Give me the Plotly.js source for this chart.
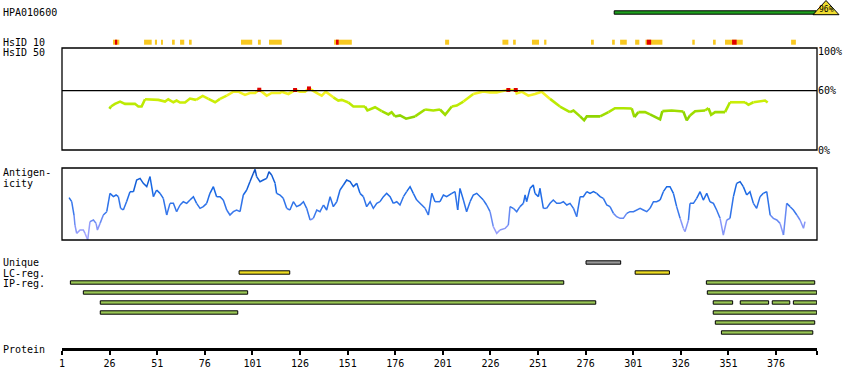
<!DOCTYPE html>
<html><head><meta charset="utf-8">
<script src="https://cdn.plot.ly/plotly-3.0.1.min.js"></script>
<style>html,body{margin:0;padding:0;background:#fff}#chart{width:850px;height:390px}</style>
</head><body><div id="chart"></div>
<script>
// ---------------- DATA ----------------
const proteinEnd = 397.5;
const tickResidues = [1,26,51,76,101,126,151,176,201,226,251,276,301,326,351,376];
const antibodyName = "HPA010600";
const hpaStart = [291], hpaEnd = [397], hpaIdentity = "96%";

const hsid10Start = [27.8,44.1,49.8,53,58.8,63,67.7,95,103.9,109.7,143.9,202.2,232.3,237.9,247.8,254.2,278.8,289.9,294.1,302,307.4,332,342.9,349.2,383.9];
const hsid10End   = [31.1,48.1,50.9,54,60.2,65.2,69.1,100.9,105.4,116.4,153.2,204.3,235.4,239.3,251.5,255.4,280.3,291.3,297.6,304.2,316.3,333.3,344.3,358.5,386.4];
const hsid10RedStart = [28.8,144.9,308.1,352.9];
const hsid10RedEnd   = [30.0,146.3,310.4,355.3];

const hsid50Pos = [25.9,26.7,28.8,31.5,34.1,39.3,41.1,42.8,44.6,51.6,55.1,56.8,59.5,61.2,63.0,65.6,68.2,71.4,74.9,77.9,81.4,84.0,87.5,91.0,93.6,97.1,99.7,102.4,104.6,108.5,111.1,115.5,116.4,119.9,123.4,126.0,128.6,130.7,135.6,137.4,139.5,143.5,146.1,147.9,151.4,154.0,160.1,161.4,165.4,168.9,172.4,174.1,175.9,178.5,181.7,186.4,191.7,196.0,199.5,202.2,205.7,208.3,211.8,217.0,222.3,225.8,229.3,231.9,235.4,239.3,239.8,242.4,245.9,249.4,252.9,257.3,262.5,267.8,269.6,273.1,275.2,276.6,283.6,288.0,291.4,295.8,300.2,301.6,303.7,307.2,309.8,312.4,315.1,316.3,321.2,327.3,329.1,330.8,333.5,338.7,340.5,341.9,344.0,349.2,351.8,359.7,361.5,364.1,366.7,370.2,371.6];
const hsid50Val = [41.7,44,46.7,49,46.7,46.7,44,44,51.3,50.7,49,51.3,48.3,50,48,48,52,50.7,54.7,51.7,48.3,51.7,55,59,59,55.7,57.7,57.7,61,55,57.7,57.7,59,56.7,60.7,59,59,62.3,56.7,55,59,53.3,50,50.7,48,44,44,40,43.3,39.3,36,38.3,34,35,31.7,34,41,40,41,35.7,44,45,49,56.7,59.3,58.3,58.3,59.5,60.7,60.7,57.3,59,55,56.7,59,51.7,44,38.3,40,34,30,34,34,38.3,42.3,42.3,42,33.3,38.3,38.3,36,33.3,31,39.3,40,39,30,35,39.3,40,42.3,35.7,38.3,38.3,48.3,48.3,45.7,48.3,49,50,48];

const antigenPos = [4.7,6.1,7.3,7.8,8.7,10.5,12.2,13.1,14.5,15.7,17.5,18.9,19.6,21.0,22.7,24.5,26.2,28.0,29.4,30.6,31.8,33.2,34.9,36.7,38.5,40.2,42.0,43.7,45.5,47.2,49.0,50.7,52.5,54.2,56.0,57.7,59.5,61.2,63.0,64.7,66.5,68.2,70.0,71.7,73.5,75.2,77.0,78.7,80.5,82.2,84.0,85.7,87.5,89.2,91.0,92.7,94.5,96.2,98.0,99.7,101.5,102.4,103.2,105.0,106.7,108.5,109.7,111.1,112.9,113.7,115.5,117.2,119.0,120.7,122.5,124.2,126.0,127.8,129.5,131.3,133.0,134.8,136.5,138.3,140.0,141.8,143.5,145.3,147.0,148.8,150.5,152.3,154.0,155.8,157.5,159.3,161.0,162.8,164.5,166.3,168.0,169.8,171.5,173.3,175.0,176.8,178.5,180.3,182.0,183.8,185.5,187.3,189.0,190.8,191.7,193.4,195.2,196.9,199.5,201.3,203.0,205.7,207.4,208.8,210.0,211.8,213.5,215.3,217.0,218.8,220.5,222.3,224.0,225.8,227.5,229.3,231.0,233.7,235.4,236.3,238.0,239.8,241.5,243.3,244.2,245.0,246.8,248.5,249.4,251.2,252.0,253.8,255.5,257.3,259.0,260.8,262.5,264.3,266.1,267.8,269.6,271.3,273.1,274.8,276.6,278.3,280.1,281.8,283.6,285.3,287.1,288.8,290.6,292.3,294.1,295.8,297.6,299.3,301.1,302.8,304.6,306.3,308.1,309.8,311.6,313.3,315.1,316.8,318.6,320.3,322.1,323.8,325.6,327.3,328.2,330.0,330.8,332.6,334.3,336.1,337.8,339.6,341.3,343.1,344.8,346.6,348.3,350.1,351.8,353.6,355.3,357.1,358.8,360.6,362.3,364.1,365.8,367.6,369.3,371.1,372.9,374.6,376.4,378.1,379.9,381.6,383.4,385.1,386.9,388.6,390.4,391.2];
const antigenVal = [58.8,53.2,34.7,20.8,9.2,13.9,13.9,9.2,0,25.5,27.8,23.1,13.9,23.1,34.7,39.3,64.8,60.2,62.5,60.2,44.0,41.7,53.2,67.1,67.1,83.3,85.6,78.7,74.1,88.0,60.2,69.4,64.8,57.9,34.7,50.9,50.9,39.3,48.6,53.2,50.9,55.5,60.2,50.9,44.0,46.3,50.9,64.8,74.1,60.2,60.2,55.5,41.7,34.7,39.3,41.7,39.3,62.5,69.4,81.0,92.6,98.1,88.0,81.0,83.3,85.6,94.9,90.3,78.7,64.8,62.5,57.9,44.0,41.7,53.2,46.3,48.6,53.2,44.0,27.8,30.1,41.7,39.3,48.6,41.7,60.2,46.3,53.2,69.4,76.4,83.3,81.0,74.1,78.7,64.8,60.2,46.3,53.2,44.0,50.9,53.2,60.2,64.8,60.2,50.9,53.2,48.6,60.2,67.1,74.1,64.8,55.5,50.9,46.3,44.0,34.7,64.8,53.2,53.2,62.5,60.2,64.8,67.1,41.7,71.7,55.5,39.3,53.2,62.5,64.8,60.2,55.5,48.6,39.3,18.5,9.2,13.9,16.2,20.8,46.3,44.0,39.3,46.3,50.9,62.5,53.2,71.7,76.4,64.8,60.2,71.7,44.0,44.0,50.9,55.5,50.9,50.9,53.2,48.6,50.9,44.0,32.4,60.2,60.2,67.1,64.8,67.1,64.8,60.2,57.9,48.6,46.3,37.0,32.4,30.1,30.1,37.0,39.3,39.3,41.7,44.0,41.7,39.3,44.0,53.2,53.2,55.5,67.1,74.1,74.1,64.8,46.3,30.1,16.2,11.6,27.8,50.9,50.9,57.9,67.1,55.5,64.8,53.2,50.9,41.7,30.1,6.9,27.8,30.1,60.2,78.7,81.0,74.1,62.5,67.1,50.9,44.0,60.2,64.8,67.1,34.7,30.1,27.8,23.1,6.9,50.9,46.3,41.7,34.7,27.8,16.2,25.5];

const uniqueStart = [276.2], uniqueEnd = [294.4];
const lcStart = [94.0, 302.0], lcEnd = [120.6, 320.0];
const ipStart = [5.4, 339.4, 12.2, 339.9, 21.1, 343.0, 357.2, 374.0, 385.1, 21.1, 343.0, 344.1, 347.3];
const ipEnd   = [264.5, 396.3, 98.5, 397.4, 281.3, 353.2, 372.1, 383.2, 397.4, 93.3, 397.4, 396.3, 395.3];
const ipRow   = [1, 1, 2, 2, 3, 3, 3, 3, 3, 4, 4, 5, 6];

// ---------------- STYLE / LAYOUT ----------------
const FONT = "DejaVu Sans Mono, Liberation Mono, monospace";
const H = 390;
const ROW = {hpa: 12.5, hsid10: 42.2, unique: 262.5, lc: 272.5, ip0: 272.5, ipStep: 10};

function hex2rgb(h){return [parseInt(h.substr(1,2),16),parseInt(h.substr(3,2),16),parseInt(h.substr(5,2),16)];}
function mix(a,b,t){const A=hex2rgb(a),B=hex2rgb(b);return 'rgb('+A.map((v,i)=>Math.round(v+(B[i]-v)*t)).join(',')+')';}
function rampColor(stops, t){
  t=Math.max(0,Math.min(1,t));
  for(let i=0;i<stops.length-1;i++){
    if(t<=stops[i+1][0]){const s=(t-stops[i][0])/(stops[i+1][0]-stops[i][0]);return mix(stops[i][1],stops[i+1][1],s);}
  }
  return mix(stops[stops.length-1][1],stops[stops.length-1][1],0);
}
function hsColor(v){
  if(v>=54) return '#f2f222';
  const t=Math.round(Math.max(0,Math.min(1,(v-30)/24))*6)/6;
  return rampColor([[0,'#80cc00'],[0.5,'#aee600'],[1,'#d8f20a']],t);
}
function agColor(v){
  const t=Math.round(v/10)/10;
  return rampColor([[0,'#a6a6ff'],[0.25,'#7e92f6'],[0.4,'#3a78ec'],[0.7,'#1868e4'],[1,'#0a4cc0']],t);
}
function segmentTraces(xs, ys, colorFn, width, yaxis){
  const out=[]; let cur=null;
  for(let i=0;i<xs.length-1;i++){
    const c=colorFn((ys[i]+ys[i+1])/2);
    if(cur && cur.line.color===c){cur.x.push(xs[i+1]);cur.y.push(ys[i+1]);}
    else{
      cur={type:'scatter',mode:'lines',x:[xs[i],xs[i+1]],y:[ys[i],ys[i+1]],xaxis:'x',yaxis:yaxis,
           line:{color:c,width:width},hoverinfo:'skip',showlegend:false};
      out.push(cur);
    }
  }
  return out;
}
function hbar(starts, ends, rows, color, lineW, w){
  return {type:'bar',orientation:'h',base:starts,x:starts.map((s,i)=>ends[i]-s),y:rows,
    width:w,xaxis:'x',yaxis:'y',marker:{color:color,line:{color:'#000',width:lineW}},
    hoverinfo:'skip',showlegend:false};
}

const traces = [];
traces.push(hbar(hpaStart, hpaEnd, hpaStart.map(()=>ROW.hpa), '#1fa01f', 1, 3.4));
traces.push(hbar(hsid10Start, hsid10End, hsid10Start.map(()=>ROW.hsid10), '#f8c820', 0, 5));
traces.push(hbar(hsid10RedStart, hsid10RedEnd, hsid10RedStart.map(()=>ROW.hsid10), '#e00000', 0, 5));
traces.push(hbar(uniqueStart, uniqueEnd, uniqueStart.map(()=>ROW.unique), '#999999', 1, 3.4));
traces.push(hbar(lcStart, lcEnd, lcStart.map(()=>ROW.lc), '#eedd22', 1, 3.4));
traces.push(hbar(ipStart, ipEnd, ipRow.map(r=>ROW.ip0+r*ROW.ipStep), '#99c655', 1, 3.4));
segmentTraces(hsid50Pos, hsid50Val, hsColor, 2.6, 'y2').forEach(t=>traces.push(t));
const redX=[],redY=[];
hsid50Pos.forEach((p,i)=>{if(hsid50Val[i]>60){redX.push(p);redY.push(hsid50Val[i]);}});
traces.push({type:'scatter',mode:'markers',x:redX,y:redY,xaxis:'x',yaxis:'y2',
  marker:{symbol:'square',size:4,color:'#dd0000'},hoverinfo:'skip',showlegend:false});
segmentTraces(antigenPos, antigenVal, agColor, 1.5, 'y3').forEach(t=>traces.push(t));

const P = y => 1 - y/H;
const PX = x => (x-62)/755;
const leftLabels = [["HPA010600",12.5],["HsID 10",42.3],["HsID 50",52.3],["Antigen-",172.7],["icity",183.3],
  ["Unique",262.7],["LC-reg.",273.3],["IP-reg.",283.3],["Protein",349.7]];
const annotations = leftLabels.map(([t,y])=>({text:t,xref:'paper',yref:'paper',x:PX(2),y:P(y),
  xanchor:'left',yanchor:'middle',showarrow:false,font:{family:FONT,size:10,color:'#000'},borderpad:0}));
annotations.push({text:hpaIdentity,xref:'paper',yref:'paper',x:PX(826),y:P(9.8),xanchor:'center',yanchor:'middle',
  showarrow:false,font:{family:FONT,size:8,color:'#000'},borderpad:0});

const shapes = [
  {type:'rect',xref:'paper',yref:'y2 domain',x0:0,x1:1,y0:0,y1:1,line:{color:'#000',width:1.3}},
  {type:'line',xref:'paper',yref:'y2',x0:0,x1:1,y0:60,y1:60,line:{color:'#000',width:1.2}},
  {type:'rect',xref:'paper',yref:'y3 domain',x0:0,x1:1,y0:0,y1:1,line:{color:'#000',width:1.3}},
  {type:'path',xref:'paper',yref:'paper',
   path:'M '+PX(813)+' '+P(14.7)+' L '+PX(826)+' '+P(0.5)+' L '+PX(839)+' '+P(14.7)+' Z',
   fillcolor:'#f0dc30',line:{color:'#000',width:1}}
];

const layout = {
  width:850,height:390,margin:{l:62,r:33,t:0,b:0},paper_bgcolor:'#fff',plot_bgcolor:'rgba(0,0,0,0)',
  showlegend:false,barmode:'overlay',font:{family:FONT,size:10,color:'#000'},
  xaxis:{range:[1,proteinEnd],domain:[0,1],anchor:'free',position:P(349),showline:true,linecolor:'#000',linewidth:3,
    ticks:'outside',ticklen:4,tickwidth:2,tickcolor:'#000',
    tickvals:tickResidues.concat([proteinEnd]),ticktext:tickResidues.map(String).concat(['']),
    tickfont:{family:FONT,size:10,color:'#000'},showgrid:false,zeroline:false,fixedrange:true},
  yaxis:{domain:[0,1],range:[H,0],visible:false,fixedrange:true,anchor:'x'},
  yaxis2:{domain:[P(150),P(48)],range:[0,103.2],side:'right',anchor:'x',showline:false,showgrid:false,zeroline:false,
    ticks:'',tickvals:[0,60,100],ticktext:['0%','60%','100%'],tickfont:{family:FONT,size:10,color:'#000'},fixedrange:true},
  yaxis3:{domain:[P(240),P(168)],range:[0,100],visible:false,anchor:'x',fixedrange:true},
  shapes:shapes,annotations:annotations
};
Plotly.newPlot('chart',traces,layout,{displayModeBar:false,staticPlot:true});
</script></body></html>
